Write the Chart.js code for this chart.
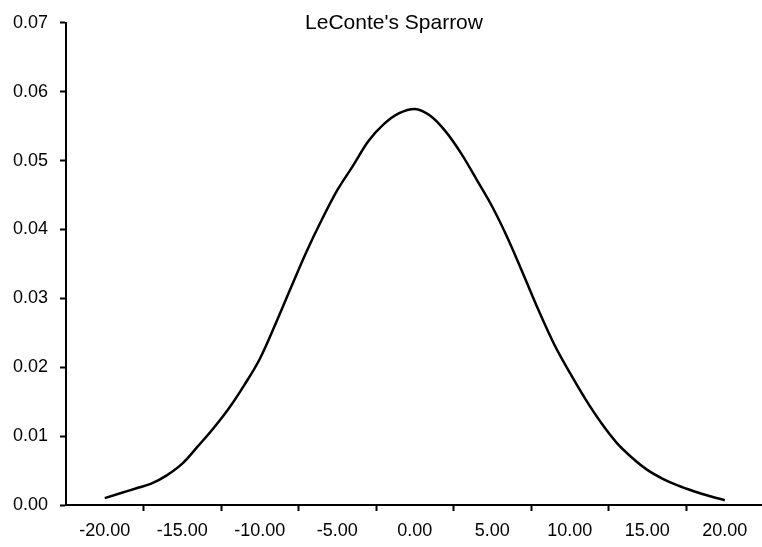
<!DOCTYPE html>
<html>
<head>
<meta charset="utf-8">
<script src="https://cdn.jsdelivr.net/npm/chart.js@4/dist/chart.umd.min.js"></script>
<style>
  body { margin: 0; background: #fff; }
  #wrap { width: 762px; height: 547px; }
</style>
</head>
<body>
<div id="wrap"><canvas id="lineChart"></canvas></div>
<script>
// values
const xValues = [-20, -19, -18, -17, -16, -15, -14, -13, -12, -11, -10, -9, -8, -7, -6, -5, -4, -3, -2, -1,
    0, 1, 2, 3, 4, 5, 6, 7, 8, 9, 10, 11, 12, 13, 14, 15, 16, 17, 18, 19, 20];
const density = [0.0010, 0.0017, 0.0024, 0.0031, 0.0043, 0.0060, 0.0085, 0.0111, 0.0140, 0.0174,
    0.0212, 0.0262, 0.0315, 0.0367, 0.0414, 0.0457, 0.0492, 0.0528, 0.0553, 0.0569,
    0.0575, 0.0565, 0.0542, 0.0510, 0.0472, 0.0433, 0.0387, 0.0335, 0.0282, 0.0233,
    0.0192, 0.0154, 0.0120, 0.0091, 0.0069, 0.0051, 0.0038, 0.0028, 0.0020, 0.0013, 0.0007];
const xLabels = [-20, -15, -10, -5, 0, 5, 10, 15, 20];
const xTickMarks = [-17.5, -12.5, -7.5, -2.5, 2.5, 7.5, 12.5, 17.5];
const yTicks = [0, 0.01, 0.02, 0.03, 0.04, 0.05, 0.06, 0.07];
const chartTitle = "LeConte's Sparrow";

const font = 'Liberation Sans, Arial, sans-serif';

const titlePlugin = {
    id: 'insideTitle',
    afterDraw(chart) {
        const c = chart.ctx;
        c.save();
        c.font = '21px ' + font;
        c.fillStyle = '#000';
        c.textAlign = 'center';
        c.textBaseline = 'alphabetic';
        c.fillText(chartTitle, 394, 29);
        c.restore();
    }
};

document.addEventListener('DOMContentLoaded', function () {
    const ctx = document.getElementById('lineChart').getContext('2d');
    const lineChart = new Chart(ctx, {
        type: 'line',
        data: {
            datasets: [{
                label: chartTitle,
                data: xValues.map((x, i) => ({ x: x, y: density[i] })),
                borderColor: '#000',
                borderWidth: 2.5,
                pointRadius: 0,
                tension: 0.4,
                cubicInterpolationMode: 'monotone',
                fill: false
            }]
        },
        options: {
            responsive: true,
            maintainAspectRatio: false,
            animation: false,
            layout: { padding: { top: 13, right: 0, left: 0, bottom: 0 } },
            plugins: {
                legend: { display: false },
                tooltip: { enabled: false }
            },
            scales: {
                x: {
                    type: 'linear',
                    min: -22.5,
                    max: 22.4,
                    afterBuildTicks: function (scale) {
                        scale.ticks = xLabels.concat(xTickMarks).sort((a, b) => a - b).map(v => ({ value: v }));
                    },
                    afterFit: function (scale) { scale.height = 42; },
                    ticks: {
                        autoSkip: false,
                        maxRotation: 0,
                        padding: 9,
                        color: '#000',
                        font: { family: font, size: 18 },
                        callback: function (v) {
                            return xLabels.includes(v) ? v.toFixed(2) : '';
                        }
                    },
                    grid: {
                        drawOnChartArea: false,
                        tickLength: 6,
                        tickWidth: 2,
                        tickColor: function (c) {
                            return c.tick && xLabels.includes(c.tick.value) ? 'rgba(0,0,0,0)' : '#000';
                        }
                    },
                    border: { color: '#000', width: 2 }
                },
                y: {
                    min: 0,
                    max: 0.07,
                    afterBuildTicks: function (scale) {
                        scale.ticks = yTicks.map(v => ({ value: v }));
                    },
                    afterFit: function (scale) { scale.width = 66; },
                    ticks: {
                        padding: 12,
                        color: '#000',
                        font: { family: font, size: 18 },
                        callback: function (v) { return v.toFixed(2); }
                    },
                    grid: {
                        drawOnChartArea: false,
                        tickLength: 6,
                        tickWidth: 2,
                        tickColor: '#000'
                    },
                    border: { color: '#000', width: 2 }
                }
            }
        },
        plugins: [titlePlugin]
    });
});
</script>
</body>
</html>
